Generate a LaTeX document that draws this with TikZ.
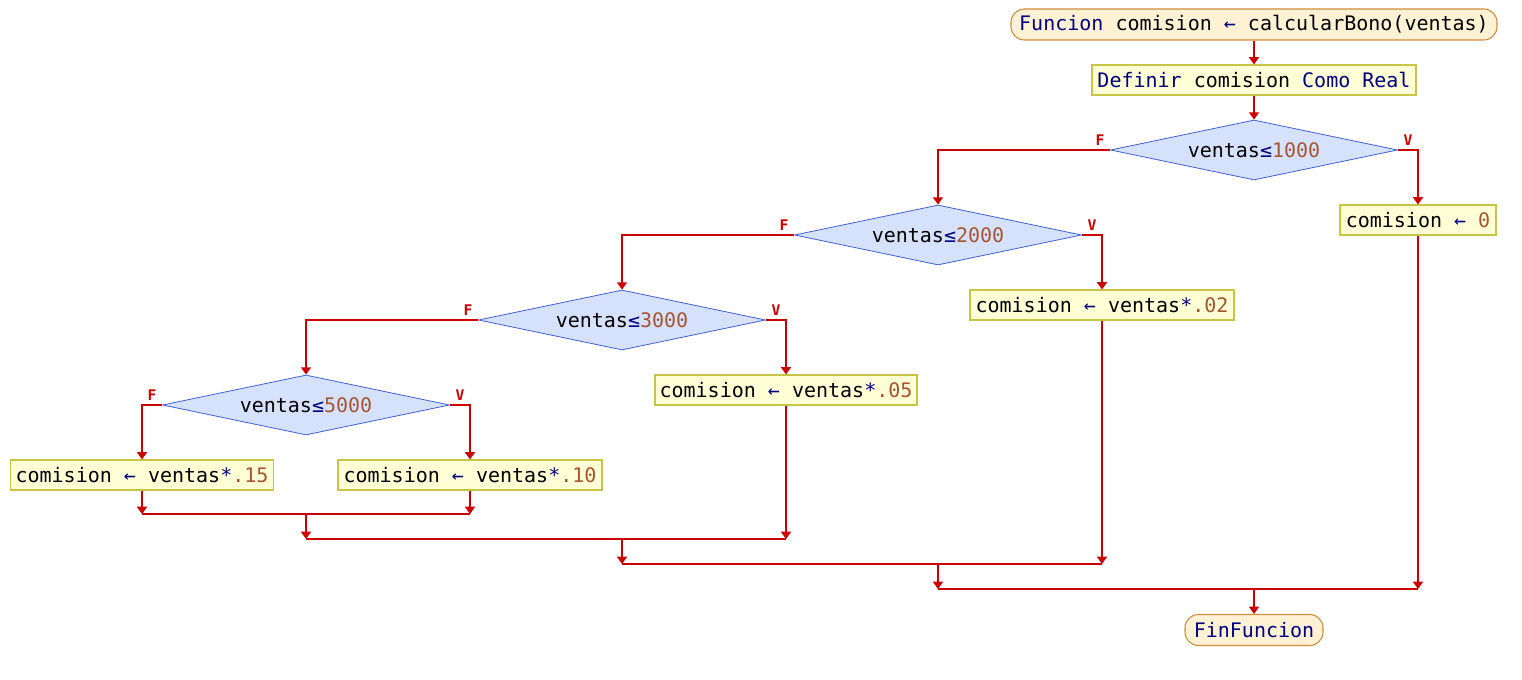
\documentclass[tikz,border=0pt]{standalone}
\usepackage{fontspec}
\setmonofont{DejaVu Sans Mono}
\usetikzlibrary{shapes.geometric,arrows.meta}
\definecolor{kw}{RGB}{0,0,128}
\definecolor{num}{RGB}{165,85,50}
\definecolor{lnk}{RGB}{204,0,0}
\definecolor{tfill}{RGB}{255,242,212}
\definecolor{tdraw}{RGB}{204,140,60}
\definecolor{pfill}{RGB}{255,255,214}
\definecolor{pdraw}{RGB}{200,196,70}
\definecolor{dfill}{RGB}{214,226,252}
\definecolor{ddraw}{RGB}{64,96,204}
\newcommand{\kwc}[1]{\textcolor{kw}{#1}}
\newcommand{\numc}[1]{\textcolor{num}{#1}}
\begin{document}
\begin{tikzpicture}[x=0.75pt,y=-0.75pt,
  font=\ttfamily\fontsize{15}{18}\selectfont,
  term/.style={rectangle, draw=tdraw, fill=tfill, rounded corners=10pt, minimum height=23.25pt, inner sep=0pt, line width=0.8pt},
  proc/.style={rectangle, draw=pdraw, fill=pfill, minimum height=22.5pt, inner sep=0pt, line width=0.8pt},
  dec/.style={diamond, aspect=4.783, draw=ddraw, fill=dfill, minimum width=215.25pt, minimum height=45pt, inner sep=0pt, line width=0.6pt},
  flow/.style={draw=lnk, line width=1.9pt},
  arr/.style={flow, -{Triangle[width=7.5pt,length=5.5pt]}},
  lab/.style={text=lnk, inner sep=0pt, font=\ttfamily\bfseries\fontsize{11}{13}\selectfont}]
\useasboundingbox (0,0) rectangle (1522,680);

% nodes
\node[term, minimum width=364.5pt] (start) at (1254,24.5) {\kwc{Funcion} comision \kwc{←} calcularBono(ventas)};
\node[proc, minimum width=243pt] (def) at (1254,80) {\kwc{Definir} comision \kwc{Como Real}};
\node[dec] (d1) at (1254,150) {ventas\kwc{≤}\numc{1000}};
\node[proc, minimum width=117pt] (a0) at (1418,220) {comision \kwc{←} \numc{0}};
\node[dec] (d2) at (938,235) {ventas\kwc{≤}\numc{2000}};
\node[proc, minimum width=198pt] (a02) at (1102,305) {comision \kwc{←} ventas\kwc{*}\numc{.02}};
\node[dec] (d3) at (622,320) {ventas\kwc{≤}\numc{3000}};
\node[proc, minimum width=196.5pt] (a05) at (786,390) {comision \kwc{←} ventas\kwc{*}\numc{.05}};
\node[dec] (d4) at (306,405) {ventas\kwc{≤}\numc{5000}};
\node[proc, minimum width=197.25pt] (a15) at (142,475) {comision \kwc{←} ventas\kwc{*}\numc{.15}};
\node[proc, minimum width=198pt] (a10) at (470,475) {comision \kwc{←} ventas\kwc{*}\numc{.10}};
\node[term, minimum width=103.5pt] (fin) at (1254,630) {\kwc{FinFuncion}};

% branch labels
\node[lab] (f1) at (1100,140) {F};
\node[lab] (v1) at (1408,140) {V};
\node[lab] (f2) at (784,225) {F};
\node[lab] (v2) at (1092,225) {V};
\node[lab] (f3) at (468,310) {F};
\node[lab] (v3) at (776,310) {V};
\node[lab] (f4) at (152,395) {F};
\node[lab] (v4) at (460,395) {V};

% junction coordinates
\coordinate (j15) at (142,514);
\coordinate (j10) at (470,514);
\coordinate (m4) at (306,514);
\coordinate (n4) at (306,539);
\coordinate (j05) at (786,539);
\coordinate (m3) at (622,539);
\coordinate (n3) at (622,564);
\coordinate (j02) at (1102,564);
\coordinate (m2) at (938,564);
\coordinate (n2) at (938,589);
\coordinate (j0) at (1418,589);
\coordinate (m1) at (1254,589);

% connectors
\draw[arr] (start) -- (def);
\draw[arr] (def) -- (d1);
\draw[arr] (d1.west) -| (d2.north);
\draw[arr] (d1.east) -| (a0.north);
\draw[arr] (d2.west) -| (d3.north);
\draw[arr] (d2.east) -| (a02.north);
\draw[arr] (d3.west) -| (d4.north);
\draw[arr] (d3.east) -| (a05.north);
\draw[arr] (d4.west) -| (a15.north);
\draw[arr] (d4.east) -| (a10.north);

\draw[arr] (a15.south) -- (j15);
\draw[arr] (a10.south) -- (j10);
\draw[flow] (j15) -- (j10);
\draw[arr] (m4) -- (n4);
\draw[arr] (a05.south) -- (j05);
\draw[flow] (n4) -- (j05);
\draw[arr] (m3) -- (n3);
\draw[arr] (a02.south) -- (j02);
\draw[flow] (n3) -- (j02);
\draw[arr] (m2) -- (n2);
\draw[arr] (a0.south) -- (j0);
\draw[flow] (n2) -- (j0);
\draw[arr] (m1) -- (fin.north);
\end{tikzpicture}
\end{document}
